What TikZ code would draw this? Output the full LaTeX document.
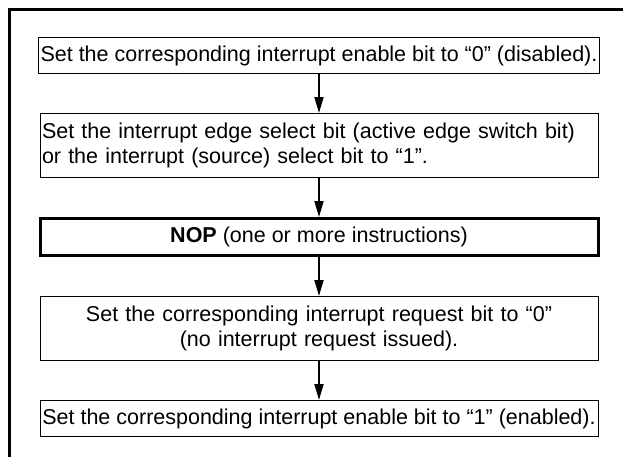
\documentclass[tikz,border=0pt]{standalone}
\usepackage{fontspec}
\setmainfont{Liberation Sans}
\usepackage{tikz}
\usetikzlibrary{arrows.meta,positioning}

\begin{document}
\begin{tikzpicture}[
    x=0.5pt, y=-0.5pt,
    node distance=19.5pt,
    box/.style={draw,line width=0.5pt,minimum width=279pt,minimum height=18pt,
                inner xsep=1pt,inner ysep=1pt,font=\fontsize{10.75}{12.2}\selectfont},
    twobox/.style={box,minimum height=32pt,text width=277pt},
    nopbox/.style={box,line width=1.5pt,minimum height=18.5pt},
    arrow/.style={-{Triangle[length=8pt,width=4.5pt]},line width=0.9pt},
    frame/.style={line width=1.5pt}
  ]
    \useasboundingbox (0,0) rectangle (623,457);
    \draw[frame] (623,9) -| (9,457);

    \node[box] (disable) at (319,55.5) {Set the corresponding interrupt enable bit to “0” (disabled).};
    \node[twobox,align=left,below=of disable] (edgesel) {Set the interrupt edge select bit (active edge switch bit)\\or the interrupt (source) select bit to “1”.};
    \node[nopbox,below=of edgesel] (nop) {\textbf{NOP} (one or more instructions)};
    \node[twobox,align=center,below=of nop] (clrreq) {Set the corresponding interrupt request bit to “0”\\(no interrupt request issued).};
    \node[box,below=of clrreq] (enable) {Set the corresponding interrupt enable bit to “1” (enabled).};

    \draw[arrow] (disable) -- (edgesel);
    \draw[arrow] (edgesel) -- (nop);
    \draw[arrow] (nop)     -- (clrreq);
    \draw[arrow] (clrreq)  -- (enable);
\end{tikzpicture}
\end{document}
